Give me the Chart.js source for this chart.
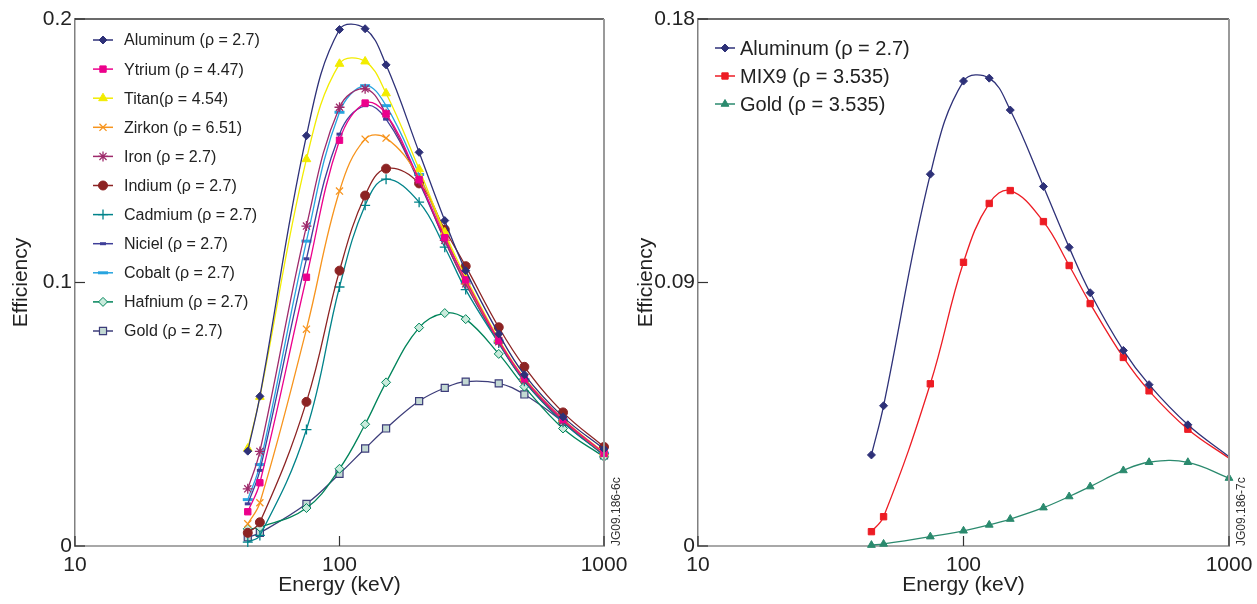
<!DOCTYPE html>
<html>
<head>
<meta charset="utf-8">
<script src="https://cdn.jsdelivr.net/npm/chart.js@4.4.1/dist/chart.umd.min.js"></script>
<style>
  body { margin: 0; background: #fff; width: 1257px; height: 604px; overflow: hidden; position: relative; }
  canvas { position: absolute; top: 0; }
  #left { left: 0; }
  #right { left: 628px; }
</style>
</head>
<body>
<canvas id="left" width="628" height="604"></canvas>
<canvas id="right" width="629" height="604"></canvas>
<script>
// energies (keV) shared by every curve
const energies = [45, 50, 75, 100, 125, 150, 200, 250, 300, 400, 500, 700, 1000];
const xTicks = [10, 100, 1000];
const yTicksLeft = [0, 0.1, 0.2];
const yTicksRight = [0, 0.09, 0.18];

// left chart: efficiency per material
const aluminum = [0.036, 0.0568, 0.1557, 0.196, 0.1963, 0.1826, 0.1494, 0.1235, 0.1045, 0.0805, 0.065, 0.049, 0.0368];
const ytrium   = [0.013, 0.024, 0.102, 0.154, 0.1681, 0.164, 0.139, 0.117, 0.101, 0.078, 0.0635, 0.048, 0.0352];
const titan    = [0.037, 0.0566, 0.1468, 0.183, 0.1839, 0.1718, 0.143, 0.119, 0.102, 0.0785, 0.0638, 0.0482, 0.0355];
const zirkon   = [0.0084, 0.0164, 0.0823, 0.1347, 0.1544, 0.1548, 0.1398, 0.118, 0.1005, 0.078, 0.0635, 0.048, 0.035];
const iron     = [0.0217, 0.0359, 0.1214, 0.1665, 0.1735, 0.164, 0.1387, 0.116, 0.0995, 0.0775, 0.063, 0.0475, 0.035];
const indium   = [0.005, 0.009, 0.0547, 0.1045, 0.133, 0.1432, 0.1376, 0.1201, 0.1062, 0.083, 0.068, 0.0507, 0.0376];
const cadmium  = [0.0015, 0.004, 0.0442, 0.0983, 0.1293, 0.1392, 0.1305, 0.1134, 0.0973, 0.077, 0.0625, 0.047, 0.0347];
const niciel   = [0.016, 0.0287, 0.109, 0.1563, 0.1671, 0.162, 0.138, 0.116, 0.0995, 0.077, 0.0625, 0.047, 0.0345];
const cobalt   = [0.0176, 0.0309, 0.1157, 0.1646, 0.1747, 0.1671, 0.141, 0.118, 0.1005, 0.0778, 0.0632, 0.0478, 0.0352];
const hafnium  = [0.0065, 0.0071, 0.0144, 0.0293, 0.0462, 0.0621, 0.0829, 0.0884, 0.0861, 0.0729, 0.0605, 0.0446, 0.0338];
const gold     = [0.0033, 0.005, 0.016, 0.0274, 0.037, 0.0446, 0.055, 0.060, 0.0624, 0.0617, 0.0575, 0.0471, 0.0344];

// right chart
const aluminum2 = [0.0311, 0.0479, 0.127, 0.1588, 0.1598, 0.1489, 0.1228, 0.102, 0.0865, 0.0668, 0.0551, 0.0414, 0.0305];
const mix9      = [0.0049, 0.010, 0.0554, 0.0969, 0.117, 0.1214, 0.1108, 0.0958, 0.0828, 0.0644, 0.053, 0.0399, 0.030];
const gold2     = [0.0003, 0.0007, 0.0032, 0.0052, 0.0072, 0.0092, 0.0131, 0.0169, 0.0203, 0.0258, 0.0286, 0.0286, 0.0232];

Chart.defaults.font.family = "'Liberation Sans', Arial, Helvetica, sans-serif";
Chart.defaults.color = '#222';

function pts(vals) {
  return energies.map((e, i) => ({ x: e, y: vals[i] }));
}

function series(label, vals, color, style, radius, fill, bw, hideLast) {
  return {
    label: label,
    data: pts(vals),
    borderColor: color,
    borderWidth: 1.3,
    tension: 0.4,
    pointStyle: style,
    pointRadius: hideLast ? (c => c.dataIndex === vals.length - 1 ? 0 : radius) : radius,
    legendRadius: radius,
    pointBackgroundColor: fill || color,
    pointBorderColor: color,
    pointBorderWidth: bw || 1,
    clip: 10
  };
}

// legend with a short line through the marker, like the original
const lineLegend = {
  id: 'lineLegend',
  afterDraw(chart, args, o) {
    const ctx = chart.ctx;
    ctx.save();
    ctx.font = o.size + "px 'Liberation Sans', Arial, sans-serif";
    ctx.textBaseline = 'middle';
    chart.data.datasets.forEach((ds, i) => {
      const y = o.y + i * o.gap;
      ctx.strokeStyle = ds.borderColor;
      ctx.lineWidth = 1.5;
      ctx.beginPath();
      ctx.moveTo(o.x, y);
      ctx.lineTo(o.x + o.len, y);
      ctx.stroke();
      if (Chart.helpers && Chart.helpers.drawPoint) {
        ctx.fillStyle = ds.pointBackgroundColor;
        ctx.strokeStyle = ds.pointBorderColor;
        ctx.lineWidth = ds.pointBorderWidth;
        Chart.helpers.drawPoint(ctx, { pointStyle: ds.pointStyle, rotation: 0, radius: ds.legendRadius, borderWidth: ds.pointBorderWidth }, o.x + o.len / 2, y);
      }
      ctx.fillStyle = '#222';
      ctx.fillText(ds.label, o.textX, y + 1);
    });
    ctx.restore();
  }
};

// top/right frame, inward tick marks and the figure code
const frame = {
  id: 'frame',
  afterDraw(chart, args, o) {
    const ctx = chart.ctx;
    const a = chart.chartArea;
    const xs = chart.scales.x, ys = chart.scales.y;
    ctx.save();
    ctx.strokeStyle = '#3a3a3a';
    ctx.lineWidth = 1.5;
    ctx.beginPath();
    ctx.moveTo(a.left, a.top);
    ctx.lineTo(a.right, a.top);
    ctx.stroke();
    ctx.strokeStyle = '#9a9a9a';
    ctx.lineWidth = 2;
    ctx.beginPath();
    ctx.moveTo(a.right, a.top);
    ctx.lineTo(a.right, a.bottom);
    ctx.stroke();
    ctx.strokeStyle = '#333';
    ctx.lineWidth = 1.2;
    xs.ticks.forEach(t => {
      const px = xs.getPixelForValue(t.value);
      ctx.beginPath();
      ctx.moveTo(px, a.bottom);
      ctx.lineTo(px, a.bottom - 10);
      ctx.stroke();
    });
    ys.ticks.forEach(t => {
      const py = ys.getPixelForValue(t.value);
      ctx.beginPath();
      ctx.moveTo(a.left, py);
      ctx.lineTo(a.left + 10, py);
      ctx.stroke();
    });
    ctx.translate(a.right + 13, a.bottom);
    ctx.rotate(-Math.PI / 2);
    ctx.font = "12px 'Liberation Sans', Arial, sans-serif";
    ctx.fillStyle = '#333';
    ctx.textBaseline = 'middle';
    ctx.fillText(o.code, 0, 0);
    ctx.restore();
  }
};

function scales(yTicks, yWidth, titlePad) {
  return {
    x: {
      type: 'logarithmic',
      min: 10,
      max: 1000,
      afterBuildTicks: s => { s.ticks = xTicks.map(v => ({ value: v })); },
      afterFit: s => { s.height = 58; s.paddingLeft = 0; s.paddingRight = 0; },
      grid: { drawOnChartArea: false, drawTicks: false },
      border: { color: '#a8a8a8', width: 2 },
      ticks: { padding: 7, font: { size: 21 }, color: '#222', maxRotation: 0, autoSkip: false, callback: v => String(v) },
      title: { display: true, text: 'Energy (keV)', font: { size: 21 }, color: '#222', padding: { top: 0, bottom: 6 } }
    },
    y: {
      min: yTicks[0],
      max: yTicks[yTicks.length - 1],
      afterBuildTicks: s => { s.ticks = yTicks.map(v => ({ value: v })); },
      afterFit: s => { s.width = yWidth; s.paddingTop = 0; s.paddingBottom = 0; },
      grid: { drawOnChartArea: false, drawTicks: false },
      border: { color: '#808080', width: 1.5 },
      ticks: { padding: 3, font: { size: 21 }, color: '#222', callback: v => String(v) },
      title: { display: true, text: 'Efficiency', font: { size: 21 }, color: '#222', padding: { top: titlePad, bottom: 0 } }
    }
  };
}

new Chart(document.getElementById('left'), {
  type: 'line',
  data: {
    datasets: [
      series('Aluminum (\u03c1 = 2.7)', aluminum, '#2e3178', 'rectRot', 4),
      series('Ytrium (\u03c1 = 4.47)', ytrium, '#ec008c', 'rect', 4.5),
      series('Titan(\u03c1 = 4.54)', titan, '#f2ec00', 'triangle', 5),
      series('Zirkon (\u03c1 = 6.51)', zirkon, '#f7941d', 'crossRot', 5, null, 1.3),
      series('Iron (\u03c1 = 2.7)', iron, '#9e2a6b', 'star', 5, null, 1.3),
      series('Indium (\u03c1 = 2.7)', indium, '#8c2323', 'circle', 4.5),
      series('Cadmium (\u03c1 = 2.7)', cadmium, '#00838a', 'cross', 5, null, 1.3),
      series('Niciel (\u03c1 = 2.7)', niciel, '#3f3f99', 'line', 3, null, 3),
      series('Cobalt (\u03c1 = 2.7)', cobalt, '#27a4df', 'line', 5, null, 3),
      series('Hafnium (\u03c1 = 2.7)', hafnium, '#00845a', 'rectRot', 4.5, '#c9ebdc', 1),
      series('Gold (\u03c1 = 2.7)', gold, '#3d3d7a', 'rect', 5, '#c3d9d3', 1.2)
    ]
  },
  options: {
    responsive: false,
    animation: false,
    devicePixelRatio: 1,
    layout: { padding: { left: 0, top: 19, right: 24, bottom: 0 } },
    plugins: {
      legend: { display: false },
      tooltip: { enabled: false },
      lineLegend: { x: 93, y: 40, len: 20, gap: 29.1, textX: 124, size: 16 },
      frame: { code: 'JG09.186-6c' }
    },
    scales: scales(yTicksLeft, 75, 9)
  },
  plugins: [lineLegend, frame]
});

new Chart(document.getElementById('right'), {
  type: 'line',
  data: {
    datasets: [
      series('Aluminum (\u03c1 = 2.7)', aluminum2, '#2e3178', 'rectRot', 4, null, 1, true),
      series('MIX9 (\u03c1 = 3.535)', mix9, '#ed1c24', 'rect', 4.5, null, 1, true),
      series('Gold (\u03c1 = 3.535)', gold2, '#2b8a6e', 'triangle', 4.5)
    ]
  },
  options: {
    responsive: false,
    animation: false,
    devicePixelRatio: 1,
    layout: { padding: { left: 0, top: 19, right: 28, bottom: 0 } },
    plugins: {
      legend: { display: false },
      tooltip: { enabled: false },
      lineLegend: { x: 87, y: 48, len: 20, gap: 28, textX: 112, size: 20 },
      frame: { code: 'JG09.186-7c' }
    },
    scales: scales(yTicksRight, 70, 6)
  },
  plugins: [lineLegend, frame]
});
</script>
</body>
</html>
